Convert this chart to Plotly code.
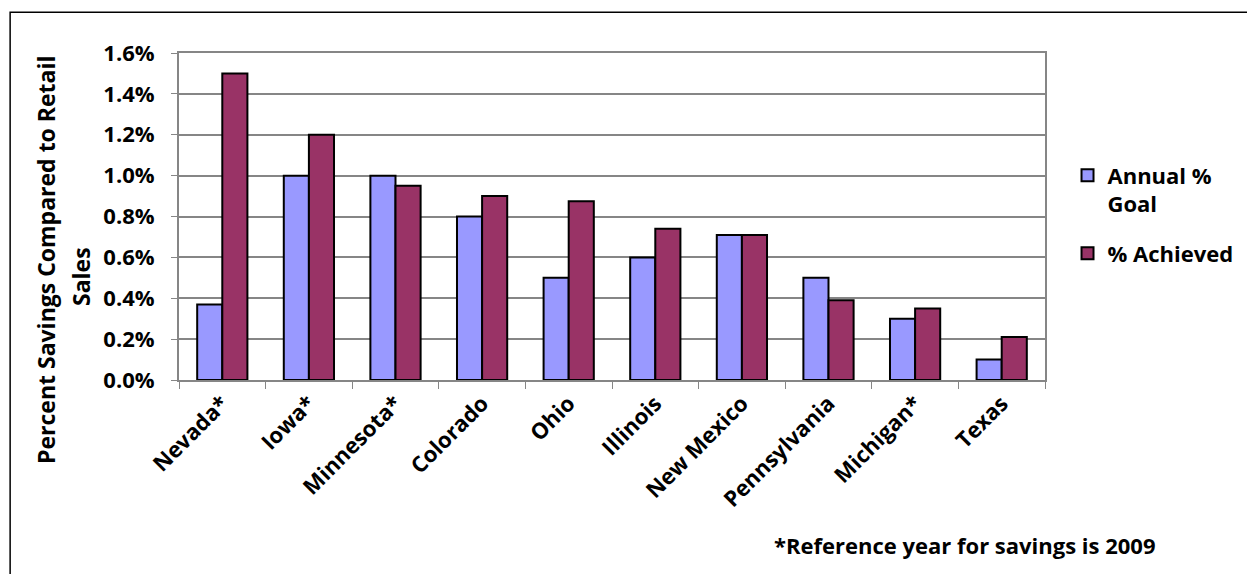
import plotly.graph_objects as go

states = ["Nevada*", "Iowa*", "Minnesota*", "Colorado", "Ohio", "Illinois",
          "New Mexico", "Pennsylvania", "Michigan*", "Texas"]
annual_goal = [0.37, 1.00, 1.00, 0.80, 0.50, 0.60, 0.71, 0.50, 0.30, 0.10]
achieved = [1.50, 1.20, 0.95, 0.90, 0.875, 0.74, 0.71, 0.39, 0.35, 0.21]
y_ticks = [0.0, 0.2, 0.4, 0.6, 0.8, 1.0, 1.2, 1.4, 1.6]
y_tick_labels = ["0.0%", "0.2%", "0.4%", "0.6%", "0.8%", "1.0%", "1.2%", "1.4%", "1.6%"]

FONT = "'Open Sans', 'Noto Sans', Arial, sans-serif"
GRID = "#868686"
TXT = dict(family=FONT, size=22, color="#000000", weight="bold")

fig = go.Figure()
fig.add_trace(go.Bar(
    x=states, y=annual_goal, name="Annual %<br>Goal", legendgroup="goal",
    marker=dict(color="#9999FF", line=dict(color="#000000", width=2)),
))
fig.add_trace(go.Bar(
    x=states, y=achieved, name="% Achieved", legendgroup="achieved",
    marker=dict(color="#993366", line=dict(color="#000000", width=2)),
))

fig.update_layout(
    width=1247, height=574,
    margin=dict(l=179, r=202, t=53, b=194, autoexpand=False),
    paper_bgcolor="white", plot_bgcolor="white",
    barmode="group", bargap=0.42, bargroupgap=0.0,
    font=TXT,
    showlegend=True,
    legend=dict(
        x=1.026, y=0.69, xanchor="left", yanchor="top", valign="top",
        font=TXT, itemwidth=30,
        tracegroupgap=18, bgcolor="rgba(0,0,0,0)",
    ),
    xaxis=dict(
        type="category", tickangle=-45,
        showline=True, linecolor=GRID, linewidth=2, mirror=True,
        ticks="outside", tickson="boundaries", ticklen=7, tickcolor=GRID, tickwidth=1,
        tickfont=TXT, showgrid=False,
    ),
    yaxis=dict(
        range=[0, 1.6], tickvals=y_ticks, ticktext=y_tick_labels,
        showline=True, linecolor=GRID, linewidth=2, mirror=True,
        ticks="outside", ticklen=6, tickcolor=GRID, tickwidth=1,
        ticklabelstandoff=12,
        showgrid=True, gridcolor=GRID, gridwidth=2,
        tickfont=TXT, zeroline=False,
    ),
)

# Two-line axis title, each line placed on its own
title_font = dict(family=FONT, size=23, color="#000000", weight="bold")
fig.add_annotation(
    text="Percent Savings Compared to Retail",
    xref="paper", yref="paper", x=(46 - 179) / 866, y=(380 - 260) / 327,
    xanchor="center", yanchor="middle", textangle=-90, showarrow=False,
    font=title_font,
)
fig.add_annotation(
    text="Sales",
    xref="paper", yref="paper", x=(81 - 179) / 866, y=(380 - 277) / 327,
    xanchor="center", yanchor="middle", textangle=-90, showarrow=False,
    font=title_font,
)
fig.add_annotation(
    text="*Reference year for savings is 2009",
    xref="paper", yref="paper", x=0.908, y=-0.505,
    xanchor="center", yanchor="middle", showarrow=False,
    font=TXT,
)

# Chart-area frame
fig.add_shape(
    type="rect", xref="paper", yref="paper",
    x0=-0.195, x1=1.5, y0=-1.0, y1=1.125,
    line=dict(color="#000000", width=1.5), fillcolor="rgba(0,0,0,0)", layer="below",
)

fig.write_html("out.html")
